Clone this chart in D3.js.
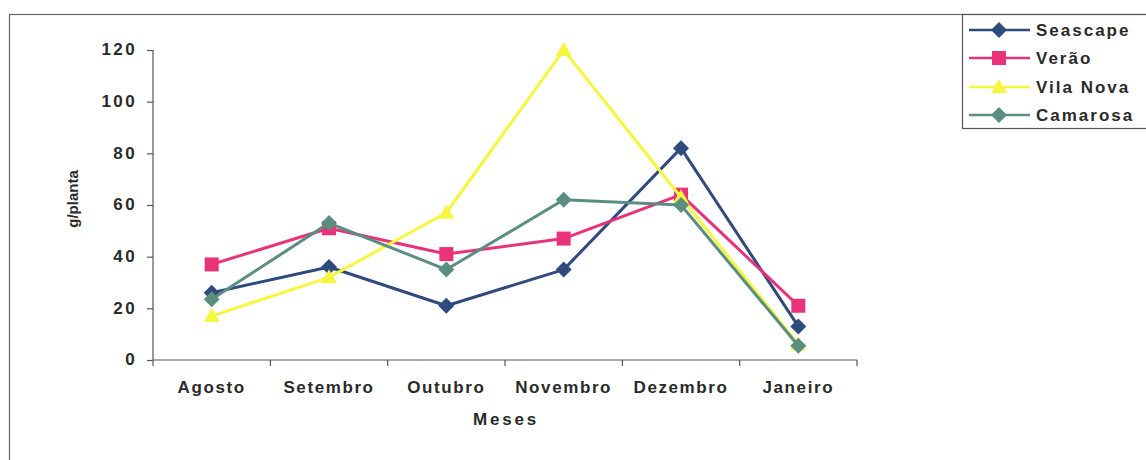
<!DOCTYPE html>
<html><head><meta charset="utf-8">
<script src="https://cdn.jsdelivr.net/npm/d3@7"></script>
<style>
html,body{margin:0;padding:0;background:#fff;}
text{font-family:"Liberation Sans",Arial,sans-serif;font-weight:bold;fill:#2a2a2a;}
</style></head>
<body><svg id="c" width="1146" height="460"></svg>
<script>
const categories = ["Agosto","Setembro","Outubro","Novembro","Dezembro","Janeiro"];
const seascape = [26, 36, 21, 35, 82, 13];
const verao = [37, 51, 41, 47, 64, 21];
const vilaNova = [17, 32, 57, 120, 63, 6];
const camarosa = [23.5, 53, 35, 62, 60, 5.5];
const yTicks = [0, 20, 40, 60, 80, 100, 120];

const series = [
  {name:"Seascape", values:seascape, color:"#2f4a7c", marker:"diamond"},
  {name:"Verão", values:verao, color:"#e8327a", marker:"square"},
  {name:"Vila Nova", values:vilaNova, color:"#f6f640", marker:"triangle"},
  {name:"Camarosa", values:camarosa, color:"#5a8e80", marker:"diamond"}
];

const svg = d3.select("#c");
svg.append("rect").attr("x",9.5).attr("y",14.5).attr("width",1160).attr("height",460)
  .attr("fill","#fff").attr("stroke","#666").attr("stroke-width",1.2);

const x = d3.scaleBand().domain(categories).range([153,857]);
const y = d3.scaleLinear().domain([0,120]).range([360,50]);

const g = svg.append("g");
const yAxis = d3.axisLeft(y).tickValues(yTicks).tickSize(6).tickPadding(10);
const gy = g.append("g").attr("transform","translate(153,0)").call(yAxis);
gy.selectAll("text").style("font-size","17px").attr("letter-spacing","2.4px").attr("fill","#2a2a2a").attr("dy","0.28em");
gy.selectAll("line,path").attr("stroke","#555").attr("stroke-width",1.2);
gy.select(".domain").attr("d","M0,50V360");

const xAxis = d3.axisBottom(x).tickSize(0).tickPadding(21);
const gx = g.append("g").attr("transform","translate(0,360)").call(xAxis);
gx.selectAll("text").style("font-size","17px").attr("letter-spacing","1.6px").attr("fill","#2a2a2a");
gx.select(".domain").attr("stroke","#555").attr("stroke-width",1.2).attr("d","M153,0H857");
const bounds = categories.map(c=>x(c)).concat([x.range()[1]]);
gx.selectAll(".bt").data(bounds).enter().append("line").attr("class","bt")
  .attr("x1",d=>d).attr("x2",d=>d).attr("y1",0).attr("y2",6).attr("stroke","#555").attr("stroke-width",1.2);

svg.append("text").attr("x",506).attr("y",425).attr("text-anchor","middle")
  .style("font-size","17px").attr("letter-spacing","2.8px").text("Meses");
svg.append("text").attr("transform","translate(78,199) rotate(-90)").attr("text-anchor","middle")
  .style("font-size","15px").text("g/planta");

const cx = d => x(d) + x.bandwidth()/2;
const line = d3.line().x((v,i)=>cx(categories[i])).y(v=>y(v));

function marker(sel, type, color){
  if(type==="square"){
    sel.append("rect").attr("x",-7).attr("y",-7).attr("width",14).attr("height",14).attr("fill",color);
  } else if(type==="diamond"){
    sel.append("path").attr("d","M0,-8L8,0L0,8L-8,0Z").attr("fill",color);
  } else {
    sel.append("path").attr("d","M0,-8L8,6L-8,6Z").attr("fill",color);
  }
}

series.forEach(s=>{
  g.append("path").datum(s.values).attr("d",line).attr("fill","none")
    .attr("stroke",s.color).attr("stroke-width",3).attr("stroke-linejoin","round");
  s.values.forEach((v,i)=>{
    const m = g.append("g").attr("transform",`translate(${cx(categories[i])},${y(v)})`);
    marker(m, s.marker, s.color);
  });
});

const lg = svg.append("g");
lg.append("rect").attr("x",962.5).attr("y",14.5).attr("width",200).attr("height",114)
  .attr("fill","#fff").attr("stroke","#555").attr("stroke-width",1.2);
const rowsY = [30, 58, 87, 115];
series.forEach((s,i)=>{
  const r = lg.append("g").attr("transform",`translate(0,${rowsY[i]})`);
  r.append("line").attr("x1",969).attr("x2",1030).attr("y1",0).attr("y2",0)
    .attr("stroke",s.color).attr("stroke-width",2.5);
  const m = r.append("g").attr("transform","translate(999,0)");
  marker(m, s.marker, s.color);
  r.append("text").attr("x",1036).attr("y",6).style("font-size","17px")
    .attr("letter-spacing","2px").text(s.name);
});
</script></body></html>
